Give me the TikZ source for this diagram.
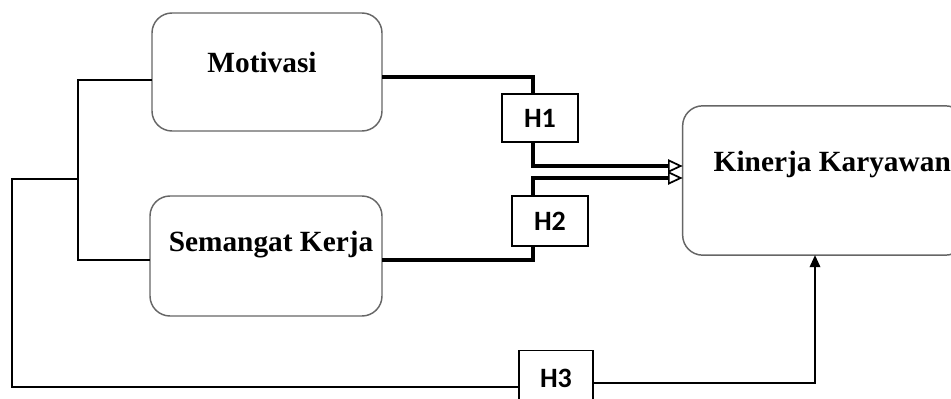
\documentclass[tikz,border=0pt]{standalone}
\usepackage{fontspec}
\setmainfont{Liberation Serif}
\newfontfamily\hfont{Carlito}
\usetikzlibrary{arrows.meta}
\usetikzlibrary{positioning}

\begin{document}
\begin{tikzpicture}[x=0.75pt,y=-0.75pt,
  varbox/.style={draw=black!60, line width=1.1pt, rounded corners=15pt, inner sep=0pt, outer sep=0pt},
  hbox/.style={draw, line width=1pt, inner sep=0pt, outer sep=0pt, minimum width=57pt, font=\hfont\bfseries\fontsize{21}{24}\selectfont},
  vartext/.style={anchor=base, font=\bfseries\fontsize{22}{26}\selectfont},
  thickline/.style={line width=3.4pt},
  thinline/.style={line width=1pt}]
\clip (0,0) rectangle (951,399);
% variable boxes
\node[varbox, minimum width=172.5pt, minimum height=88.5pt] (mot) at (267,72) {};
\node[varbox, minimum width=174pt, minimum height=90pt] (sem) at (266,256) {};
\node[varbox, minimum width=212pt, minimum height=112pt] (kin) at (824,180.5) {};
\node[vartext] (motT) at (262,73) {Motivasi};
\node[vartext] (semT) at (271,252) {Semangat Kerja};
\node[vartext, anchor=base west] (kinT) at (709,172) {Kinerja Karyawan};
% hypothesis boxes
\node[hbox, minimum height=36pt] (h1) at (540,118) {H1};
\node[hbox, minimum height=37.5pt] (h2) at (550,221) {H2};
\node[hbox, minimum width=55.5pt, minimum height=41pt] (h3) at (556,378) {H3};
% joints
\coordinate (j1) at (533,77);
\coordinate (a1) at (533,166);
\coordinate (a2) at (533,178);
\coordinate (j2) at (533,260);
\coordinate (b1) at (78,80);
\coordinate (b2) at (78,260);
\coordinate (b3) at (78,179);
\coordinate (c1) at (12,179);
\coordinate (c2) at (12,387);
\coordinate (d1) at (815,383);
% thick paths
\draw[thickline] (mot.east |- j1) -- (j1) -- (j1 |- h1.north);
\draw[thickline, -{Triangle[open, length=11pt, width=10pt, line width=1.3pt]}] (j1 |- h1.south) -- (a1) -- (a1 -| kin.west);
\draw[thickline, -{Triangle[open, length=11pt, width=10pt, line width=1.3pt]}] (a2 |- h2.north) -- (a2) -- (a2 -| kin.west);
\draw[thickline] (j2 |- h2.south) -- (j2) -- (j2 -| sem.east);
% thin paths
\draw[thinline] (b1 -| mot.west) -- (b1) -- (b2) -- (b2 -| sem.west);
\draw[thinline] (b3) -- (c1) -- (c2) -- (c2 -| h3.west);
\draw[thinline, -{Triangle[length=9pt, width=8pt]}] (h3.east |- d1) -- (d1) -- (d1 |- kin.south);
\end{tikzpicture}
\end{document}
